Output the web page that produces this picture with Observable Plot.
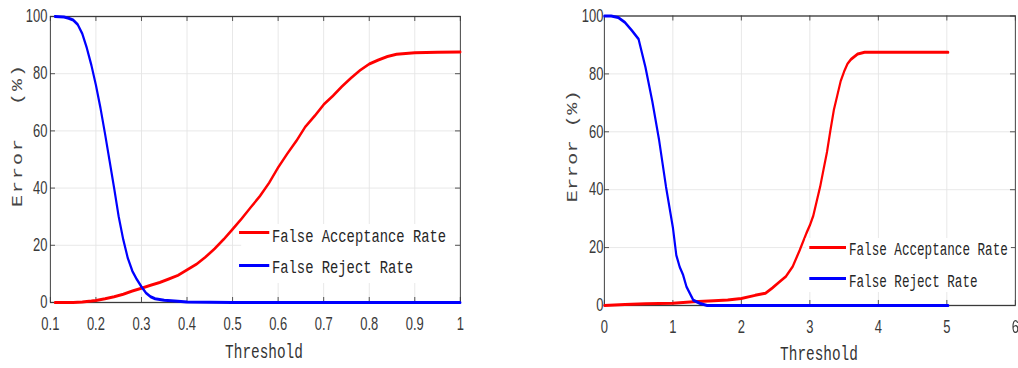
<!DOCTYPE html>
<html><head><meta charset="utf-8">
<script src="https://cdn.jsdelivr.net/npm/d3@7"></script>
<script src="https://cdn.jsdelivr.net/npm/@observablehq/plot@0.6"></script>
<style>
html,body{margin:0;padding:0;background:#fff;}
body{width:1018px;height:368px;overflow:hidden;position:relative;}
.panel{position:absolute;top:0;height:368px;transform-origin:0 0;}
.panel svg{position:absolute;left:0;top:0;}
.ylab{position:absolute;font-family:"Liberation Mono",monospace;font-size:20px;color:#444;white-space:pre;line-height:1;transform:translate(-50%,-50%) rotate(-90deg);}
.xlab{position:absolute;font-family:"Liberation Mono",monospace;font-size:20px;color:#333;white-space:pre;line-height:1;transform:translateX(-50%);}
.lgbox{position:absolute;background:#fff;}
.sw{position:absolute;height:3px;}
.lt{position:absolute;font-family:"Liberation Mono",monospace;color:#262626;white-space:pre;line-height:1;}
</style></head><body>
<script>
// ---- Data ----
const leftThreshold = [0.11,0.13,0.15,0.17,0.19,0.2,0.22,0.24,0.26,0.28,0.3,0.32,0.34,0.36,0.38,0.4,0.42,0.44,0.46,0.48,0.5,0.52,0.54,0.56,0.58,0.6,0.62,0.64,0.66,0.68,0.7,0.72,0.74,0.76,0.78,0.8,0.82,0.84,0.86,0.88,0.9,0.95,1.0];
const leftFAR = [0,0,0,0.2,0.5,0.7,1.3,2.0,2.9,4.0,5.0,6.0,7.0,8.2,9.5,11.4,13.3,15.8,18.7,22.0,25.6,29.3,33.3,37.2,41.8,47.2,52.0,56.5,61.5,65.2,69.2,72.2,75.5,78.5,81.2,83.4,84.8,86.0,86.8,87.1,87.3,87.5,87.6];
const leftFRRThreshold = [0.11,0.13,0.14,0.15,0.16,0.17,0.18,0.19,0.2,0.21,0.22,0.23,0.24,0.25,0.26,0.27,0.28,0.29,0.3,0.31,0.32,0.33,0.35,0.38,0.4,0.45,0.5,0.6,0.8,1.0];
const leftFRR = [100,99.8,99.4,98.8,97.2,94,89,83,76,68,59,49.5,40,30,22,15.5,11,8,5.5,3.3,2,1.3,0.8,0.4,0.2,0.05,0,0,0,0];

const rightFARThreshold = [0,0.3,0.6,1.0,1.3,1.6,1.8,2.0,2.2,2.35,2.45,2.55,2.65,2.75,2.85,2.95,3.0,3.05,3.1,3.15,3.2,3.25,3.3,3.35,3.4,3.45,3.5,3.55,3.6,3.7,3.8,4.0,5.02];
const rightFAR = [0,0.3,0.6,0.8,1.3,1.6,1.9,2.4,3.5,4.2,6,8,10,13.5,19,25,27.7,31,36,41,47,53,60.5,67.5,72.5,77.5,80.8,83.5,85,86.9,87.5,87.5,87.5];
const rightFRRThreshold = [0,0.1,0.2,0.3,0.4,0.5,0.6,0.7,0.8,0.9,1.0,1.05,1.1,1.15,1.2,1.25,1.3,1.4,1.5,2,3,4,5.02];
const rightFRR = [100,100,99.5,97.8,95,92,82.3,70.5,57,41,27,17.4,13.3,10.5,6.4,4.1,1.8,0.7,0,0,0,0,0];

const leftXTicks = [0.1,0.2,0.3,0.4,0.5,0.6,0.7,0.8,0.9,1];
const rightXTicks = [0,1,2,3,4,5,6];
const yTicks = [0,20,40,60,80,100];
const seriesNames = ["False Acceptance Rate","False Reject Rate"];
const seriesColors = ["#ff0000","#0000ff"];
const xTitle = "Threshold";
const yTitle = "Error (%)";

// ---- Layout ----
const S = 0.72; // horizontal squish of the reference
const H = 368;

function panel(cfg) {
  const W = cfg.screenWidth / S;
  const mL = (cfg.frameL - cfg.screenLeft) / S;
  const mR = (cfg.screenLeft + cfg.screenWidth - cfg.frameR) / S;
  const mT = cfg.top, mB = H - cfg.bottom;
  const plotW = W - mL - mR, plotH = H - mT - mB;
  const far = cfg.farX.map((x, i) => ({x, y: cfg.farY[i]}));
  const frr = cfg.frrX.map((x, i) => ({x, y: cfg.frrY[i]}));
  const axisColor = "#3a3a3a";
  const chart = Plot.plot({
    width: W, height: H,
    marginLeft: mL, marginRight: mR, marginTop: mT, marginBottom: mB,
    x: {domain: cfg.xDomain},
    y: {domain: [0, 100]},
    style: {fontFamily: "'Liberation Sans', Arial, sans-serif", fontSize: "18px", color: "#3a3a3a", background: "#fff", overflow: "visible"},
    marks: [
      Plot.gridX(cfg.xTicks, {stroke: "#e4e4e4", strokeOpacity: 1, strokeWidth: 1.2}),
      Plot.gridY(yTicks, {stroke: "#e4e4e4", strokeOpacity: 1}),
      Plot.frame({stroke: axisColor, strokeWidth: 1.3}),
      Plot.tickX(cfg.xTicks, {x: d => d, insetTop: plotH - 5, stroke: axisColor}),
      Plot.tickX(cfg.xTicks, {x: d => d, insetBottom: plotH - 5, stroke: axisColor}),
      Plot.tickY(yTicks, {y: d => d, insetRight: plotW - 5 / S, stroke: axisColor}),
      Plot.tickY(yTicks, {y: d => d, insetLeft: plotW - 5 / S, stroke: axisColor}),
      Plot.line(far, {x: "x", y: "y", stroke: seriesColors[0], strokeWidth: 3}),
      Plot.line(frr, {x: "x", y: "y", stroke: seriesColors[1], strokeWidth: 3}),
      Plot.axisX(cfg.xTicks, {tickSize: 0, tickPadding: 15, label: null, tickFormat: d => String(d)}),
      Plot.axisY(yTicks, {tickSize: 0, tickPadding: cfg.yPad / S, label: null, tickFormat: d => String(d)})
    ]
  });
  const div = document.createElement("div");
  div.className = "panel";
  div.style.left = cfg.screenLeft + "px";
  div.style.width = W + "px";
  div.style.transform = `scaleX(${S})`;
  div.appendChild(chart);

  const u = v => (v - cfg.screenLeft) / S;
  // axis titles
  const yl = document.createElement("div");
  yl.className = "ylab";
  yl.textContent = yTitle;
  yl.style.left = u(cfg.yLabX) + "px";
  yl.style.top = cfg.yLabY + "px";
  yl.style.letterSpacing = cfg.yLs + "px";
  yl.style.wordSpacing = cfg.yWs + "px";
  div.appendChild(yl);
  const xl = document.createElement("div");
  xl.className = "xlab";
  xl.textContent = xTitle;
  xl.style.left = u(cfg.xLabX) + "px";
  xl.style.top = cfg.xLabTop + "px";
  div.appendChild(xl);

  // legend
  const box = document.createElement("div");
  box.className = "lgbox";
  box.style.left = u(cfg.lg.box[0]) + "px";
  box.style.width = (cfg.lg.box[1] - cfg.lg.box[0]) / S + "px";
  box.style.top = cfg.lg.box[2] + "px";
  box.style.height = (cfg.lg.box[3] - cfg.lg.box[2]) + "px";
  div.appendChild(box);
  const fs = cfg.lg.fontSize;
  seriesNames.forEach((name, i) => {
    const sw = document.createElement("div");
    sw.className = "sw";
    sw.style.background = seriesColors[i];
    sw.style.left = u(cfg.lg.sw[0]) + "px";
    sw.style.width = (cfg.lg.sw[1] - cfg.lg.sw[0]) / S + "px";
    sw.style.top = (cfg.lg.lineY[i] - 1.5) + "px";
    div.appendChild(sw);
    const t = document.createElement("div");
    t.className = "lt";
    t.textContent = name;
    t.style.fontSize = fs + "px";
    t.style.left = u(cfg.lg.textX) + "px";
    t.style.top = (cfg.lg.baseY[i] - 0.7667 * fs) + "px";
    div.appendChild(t);
  });
  document.body.appendChild(div);
}

panel({
  screenLeft: 0, screenWidth: 480, frameL: 50, frameR: 460, top: 16, bottom: 302,
  xDomain: [0.1, 1], xTicks: leftXTicks, yPad: 3,
  farX: leftThreshold, farY: leftFAR, frrX: leftFRRThreshold, frrY: leftFRR,
  yLabX: 18, yLabY: 135, yLs: 2, yWs: 18, xLabX: 264, xLabTop: 343,
  lg: {box: [241, 455, 224, 283], sw: [239, 269], lineY: [232.7, 265], textX: 272, baseY: [243, 274], fontSize: 19.2}
});
panel({
  screenLeft: 540, screenWidth: 478, frameL: 604, frameR: 1015, top: 15.5, bottom: 305,
  xDomain: [0, 6], xTicks: rightXTicks, yPad: 1,
  farX: rightFARThreshold, farY: rightFAR, frrX: rightFRRThreshold, frrY: rightFRR,
  yLabX: 573, yLabY: 146, yLs: 0.5, yWs: 0, xLabX: 819, xLabTop: 345,
  lg: {box: [806, 1011, 238, 292], sw: [809, 846], lineY: [247.7, 278.3], textX: 849, baseY: [255.7, 287], fontSize: 17.5}
});
</script>
</body></html>
